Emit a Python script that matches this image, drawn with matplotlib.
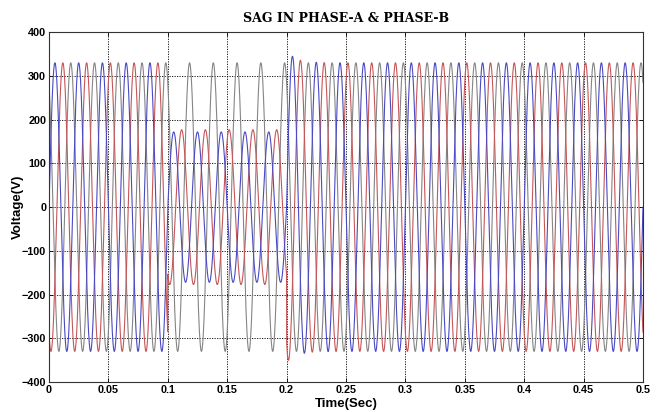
import numpy as np
import matplotlib
matplotlib.use("Agg")
import matplotlib.pyplot as plt

# ---- data ----
freq_hz = 50.0
t_end = 0.5
seg_edges = [0.0, 0.1, 0.2, 0.5]          # sag from 0.1 s to 0.2 s
amp_A = [330, 172, 330]                    # blue (phase A) peak voltage per segment
amp_B = [330, 177, 330]                    # red  (phase B)
amp_C = [330, 330, 330]                    # black (phase C), no sag
phase_deg = [0, -120, -240]                # A, B, C
overshoot = [28, 25, 0]                    # recovery overshoot at t = 0.2 s (V)
overshoot_tau = 0.008
x_ticks = [0, 0.05, 0.1, 0.15, 0.2, 0.25, 0.3, 0.35, 0.4, 0.45, 0.5]
x_tick_labels = ["0", "0.05", "0.1", "0.15", "0.2", "0.25", "0.3", "0.35", "0.4", "0.45", "0.5"]
y_ticks = [-400, -300, -200, -100, 0, 100, 200, 300, 400]

t = np.linspace(0, t_end, 25001)

def envelope(amps, os):
    env = np.zeros_like(t)
    for i in range(len(amps)):
        lo, hi = seg_edges[i], seg_edges[i + 1]
        m = (t >= lo) & ((t < hi) if i < len(amps) - 1 else (t <= hi))
        env[m] = amps[i]
    rec = t >= seg_edges[2]
    env[rec] += os * np.exp(-(t[rec] - seg_edges[2]) / overshoot_tau)
    return env

series = []
for amps, ph, os in zip([amp_A, amp_B, amp_C], phase_deg, overshoot):
    series.append(envelope(amps, os) * np.sin(2 * np.pi * freq_hz * t + np.deg2rad(ph)))

colors = ["#4a4ac4", "#c65658", "#858585"]

fig = plt.figure(figsize=(6.6, 4.12), dpi=100)
ax = fig.add_axes([0.0742, 0.0728, 0.9, 0.849])
for y, c in zip([series[2], series[1], series[0]], [colors[2], colors[1], colors[0]]):
    ax.plot(t, y, color=c, lw=0.8)

ax.set_xlim(0, 0.5)
ax.set_ylim(-400, 400)
ax.set_xticks(x_ticks)
ax.set_xticklabels(x_tick_labels)
ax.set_yticks(y_ticks)
ax.grid(True, color="black", linestyle=(0, (1.5, 1.5)), linewidth=0.6)
ax.tick_params(direction="in", length=3, width=0.6, top=True, right=True, pad=2)
for lab in ax.get_xticklabels() + ax.get_yticklabels():
    lab.set_fontfamily("Liberation Sans")
    lab.set_fontweight("bold")
    lab.set_fontsize(7.8)
for s in ax.spines.values():
    s.set_linewidth(0.8)
    s.set_color("#333333")

ax.set_title("SAG IN PHASE-A & PHASE-B", fontfamily="DejaVu Serif", fontweight="bold", fontsize=9, pad=7)
ax.set_xlabel("Time(Sec)", fontfamily="Liberation Sans", fontweight="bold", fontsize=9.5, labelpad=2)
ax.set_ylabel("Voltage(V)", fontfamily="Liberation Sans", fontweight="bold", fontsize=9.5)
ax.yaxis.set_label_coords(-0.043, 0.5)

fig.savefig("out.png", dpi=100)
